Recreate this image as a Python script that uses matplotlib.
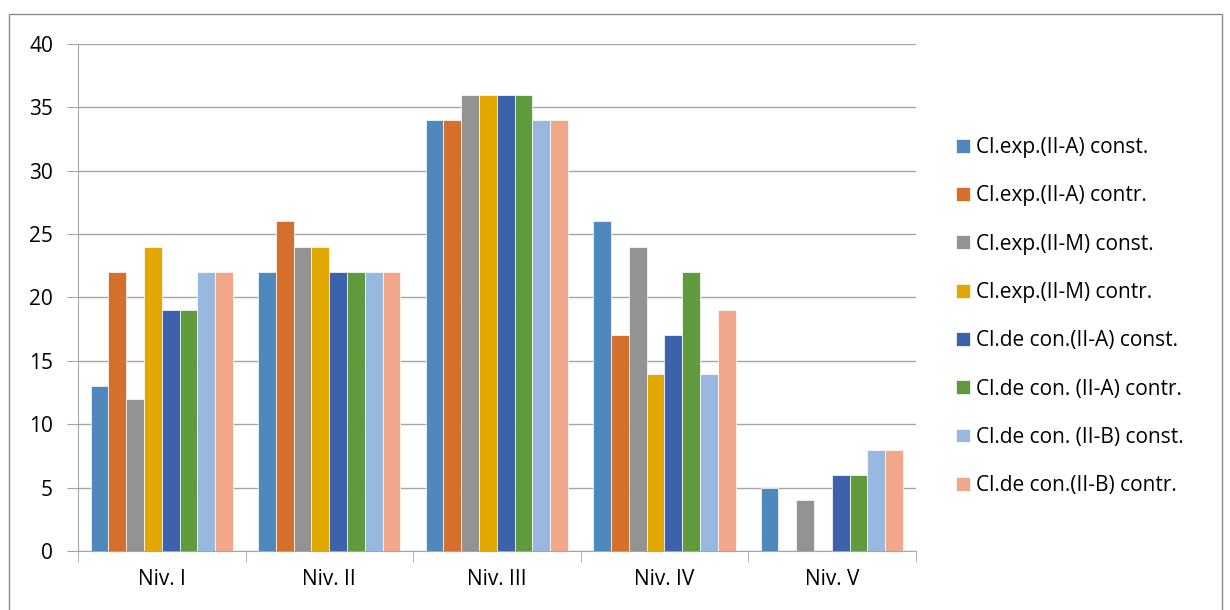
import numpy as np
import matplotlib
matplotlib.use("Agg")
import matplotlib.pyplot as plt
from matplotlib.patches import Rectangle

categories = ["Niv. I", "Niv. II", "Niv. III", "Niv. IV", "Niv. V"]
series_names = [
    "Cl.exp.(II-A) const.",
    "Cl.exp.(II-A) contr.",
    "Cl.exp.(II-M) const.",
    "Cl.exp.(II-M) contr.",
    "Cl.de con.(II-A) const.",
    "Cl.de con. (II-A) contr.",
    "Cl.de con. (II-B) const.",
    "Cl.de con.(II-B) contr.",
]
exp_a_const = [13, 22, 34, 26, 5]
exp_a_contr = [22, 26, 34, 17, 0]
exp_m_const = [12, 24, 36, 24, 4]
exp_m_contr = [24, 24, 36, 14, 0]
con_a_const = [19, 22, 36, 17, 6]
con_a_contr = [19, 22, 36, 22, 6]
con_b_const = [22, 22, 34, 14, 8]
con_b_contr = [22, 22, 34, 19, 8]
series = [exp_a_const, exp_a_contr, exp_m_const, exp_m_contr,
          con_a_const, con_a_contr, con_b_const, con_b_contr]
colors = ["#4F88BC", "#D46F2C", "#939393", "#E3A800",
          "#3C62AB", "#5F9A3D", "#98B8DF", "#F0A78A"]

plt.rcParams["font.family"] = ["Open Sans", "DejaVu Sans"]

fig = plt.figure(figsize=(12.3, 6.1), dpi=100)
ax = fig.add_axes([0.0634, 0.0967, 0.681, 0.8313])

# outer chart border
fig.patches.append(Rectangle((9 / 1230, -0.05), 1213 / 1230, 1 - 14 / 610 + 0.05,
                             transform=fig.transFigure, fill=False,
                             edgecolor="#8C8C8C", linewidth=1.0))

x = np.arange(len(categories))
n = len(series)
w = 0.85 / n
for i, (vals, name, c) in enumerate(zip(series, series_names, colors)):
    ax.bar(x - 0.425 + w * (i + 0.5), vals, width=w, color=c,
           edgecolor="white", linewidth=0.5, label=name, zorder=3)

ax.set_xlim(-0.5, 4.5)
ax.set_ylim(0, 40)
ax.set_yticks(np.arange(0, 41, 5))
ax.yaxis.grid(True, color="#A6A6A6", linewidth=1.0, zorder=0)
ax.set_xticks(x)
ax.set_xticklabels(categories)
ax.set_xticks(np.arange(-0.5, 5, 1), minor=True)
ax.tick_params(axis="x", which="major", length=0, pad=13, labelsize=15)
ax.tick_params(axis="x", which="minor", length=8, color="#A6A6A6")
ax.tick_params(axis="y", length=8, color="#A6A6A6", labelsize=15, pad=10)
for s in ["top", "right"]:
    ax.spines[s].set_visible(False)
for s in ["left", "bottom"]:
    ax.spines[s].set_color("#A6A6A6")

fig.legend(loc="center left", bbox_to_anchor=(0.762, 0.481), frameon=False,
           fontsize=15, labelspacing=1.31, handlelength=0.65,
           handleheight=0.65, handletextpad=0.3)

fig.savefig("out.png", dpi=100)
